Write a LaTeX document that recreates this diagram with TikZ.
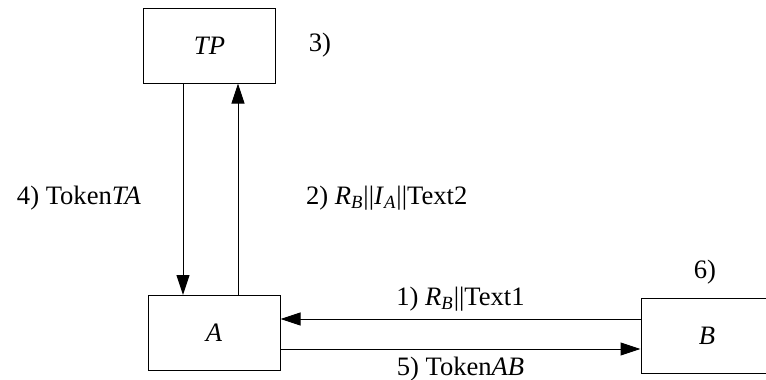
\documentclass[tikz,border=0pt]{standalone}
\usepackage{fontspec}
\setmainfont{Liberation Serif}
\usetikzlibrary{arrows.meta, positioning}

\begin{document}
\begin{tikzpicture}[
    x=0.5pt, y=-0.5pt,
    party/.style={rectangle, draw, line width=0.5pt, minimum width=66pt, minimum height=37.5pt, inner sep=0pt},
    arrow/.style={-{Triangle[length=10pt, width=6.5pt]}, line width=0.5pt},
    every node/.style={font=\fontsize{13.3}{16}\selectfont}
]

\path[use as bounding box] (0,0) rectangle (766,380);

\node[party] (tp) at (209.5,45.5) {\textit{TP}};
\node[party] (a) at (214,333) {\textit{A}};
\node[party] (b) at (707,335.5) {\textit{B}};

\node (step3) at (320,45) {3)};
\node (step6) at (705,272) {6)};
\node (step4) at (79,198) {4) Token\textit{TA}};
\node[anchor=west] (step2) at (299,198)
{2) \textit{R}\textsubscript{\textit{B}}||\textit{I}\textsubscript{\textit{A}}||Text2};

\draw[arrow] (tp.south -| 183,0) -- (a.north -| 183,0);
\draw[arrow] (a.north -| 238,0) -- (tp.south -| 238,0);

\draw[arrow] (b.west |- 0,319) -- node[midway, above=0.5pt]
{1) \textit{R}\textsubscript{\textit{B}}||Text1} (a.east |- 0,319);
\draw[arrow] (a.east |- 0,349) -- node[midway, below=0.5pt]
{5) Token\textit{AB}} (b.west |- 0,349);

\end{tikzpicture}
\end{document}
